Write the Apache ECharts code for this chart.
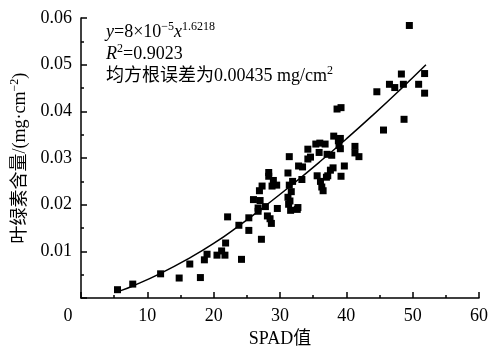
<!DOCTYPE html>
<html>
<head>
<meta charset="utf-8">
<script src="https://cdn.jsdelivr.net/npm/echarts@6/dist/echarts.min.js"></script>
<style>
  html, body { margin: 0; padding: 0; background: #fff; }
  #chart { width: 491px; height: 353px; }
</style>
</head>
<body>
<div id="chart"></div>
<script>
const spad = [
  5.5, 7.8, 12.0, 14.8, 16.4, 18.0, 18.6, 19.0, 20.5, 21.2, 21.7, 21.8, 22.1, 23.8, 24.2,
  25.3, 25.3, 26.0, 26.7, 26.7, 26.9, 27.0, 27.2, 27.3, 27.8, 28.1, 28.3, 28.3, 28.5, 28.7,
  28.8, 29.0, 29.5, 29.6, 31.2, 31.4, 31.2, 31.3, 31.4, 31.5, 31.6, 31.7, 31.9, 32.6, 32.7,
  32.8, 33.3, 33.4, 34.2, 34.2, 34.6, 35.4, 35.6, 35.9, 36.0, 36.1, 36.3, 36.5, 36.8, 37.0,
  37.1, 37.2, 37.6, 37.8, 38.0, 38.1, 38.6, 38.8, 38.9, 39.2, 39.1, 39.1, 39.2, 39.7, 41.3,
  41.3, 41.9, 44.6, 45.6, 46.5, 47.3, 48.3, 48.6, 48.7, 49.5, 50.9, 51.8, 51.8
];
const chlorophyll = [
  0.0018, 0.0030, 0.0052, 0.0043, 0.0073, 0.0044, 0.0082, 0.0094, 0.0092, 0.0101, 0.0092, 0.0118, 0.0174, 0.0156, 0.0083,
  0.0145, 0.0172, 0.0211, 0.0186, 0.0193, 0.0230, 0.0209, 0.0126, 0.0240, 0.0196, 0.0176, 0.0261, 0.0269, 0.0170, 0.0160,
  0.0240, 0.0252, 0.0242, 0.0192, 0.0268, 0.0303, 0.0216, 0.0201, 0.0242, 0.0208, 0.0188, 0.0228, 0.0250, 0.0190, 0.0194,
  0.0283, 0.0254, 0.0281, 0.0319, 0.0298, 0.0302, 0.0330, 0.0262, 0.0312, 0.0332, 0.0250, 0.0238, 0.0230, 0.0330, 0.0259,
  0.0308, 0.0262, 0.0274, 0.0306, 0.0279, 0.0347, 0.0405, 0.0337, 0.0327, 0.0408, 0.0342, 0.0320, 0.0261, 0.0283, 0.0325,
  0.0311, 0.0303, 0.0442, 0.0360, 0.0458, 0.0451, 0.0480, 0.0458, 0.0383, 0.0584, 0.0458, 0.0481, 0.0439
];
// fitted curve
const fitX = [6, 8, 12, 16, 20, 24, 28, 32, 36, 40, 44, 48, 52];
const fitY = [0.0016, 0.0027, 0.0053, 0.0083, 0.0117, 0.0157, 0.0200, 0.0245, 0.0292, 0.0341, 0.0392, 0.0445, 0.0500];
const xTicks = [0, 10, 20, 30, 40, 50, 60];
const yTicks = [0, 0.01, 0.02, 0.03, 0.04, 0.05, 0.06];

const FONT = '"Liberation Serif", "Noto Sans CJK SC", serif';
const scatterData = spad.map((x, i) => [x, chlorophyll[i]]);
const fitData = fitX.map((x, i) => [x, fitY[i]]);

// superscript / normal / italic rich styles
const txt = { fontFamily: FONT, fontSize: 18, fontWeight: 'normal', color: '#000', lineHeight: 22, verticalAlign: 'bottom' };
const sup = { fontFamily: FONT, fontSize: 12, fontWeight: 'normal', color: '#000', lineHeight: 12, verticalAlign: 'bottom', padding: [0, 0, 8, 0] };

const canvas = echarts.init(document.getElementById('chart'));
canvas.setOption({
  animation: false,
  textStyle: { fontFamily: FONT, color: '#000' },
  grid: { left: 81, right: 11, top: 18, bottom: 41 },
  title: {
    left: 106,
    top: 19,
    padding: 0,
    text: '{i|y}{n|=8×10}{s|−5}{i|x}{s|1.6218}\n{i|R}{s|2}{n|=0.9023}\n{n|均方根误差为0.00435 mg/cm}{s|2}',
    textStyle: {
      fontWeight: 'normal',
      rich: {
        n: txt,
        i: Object.assign({}, txt, { fontStyle: 'italic' }),
        s: sup
      }
    }
  },
  xAxis: {
    type: 'value',
    min: xTicks[0],
    max: xTicks[xTicks.length - 1],
    interval: 10,
    name: 'SPAD值',
    nameLocation: 'middle',
    nameGap: 30,
    nameTextStyle: { fontFamily: FONT, fontSize: 18, color: '#000' },
    axisLine: { lineStyle: { color: '#000', width: 1.5 } },
    axisTick: { inside: true, length: 6, lineStyle: { color: '#000', width: 1.5 } },
    minorTick: { show: true, splitNumber: 2, length: 3, lineStyle: { color: '#000', width: 1.5 } },
    splitLine: { show: false },
    axisLabel: {
      margin: 9,
      fontFamily: FONT,
      fontSize: 18,
      color: '#000',
      formatter: (v) => (v === 0 ? '{z|0}' : String(v)),
      rich: { z: { fontFamily: FONT, fontSize: 18, color: '#000', padding: [0, 26, 0, 0] } }
    }
  },
  yAxis: {
    type: 'value',
    min: yTicks[0],
    max: yTicks[yTicks.length - 1],
    interval: 0.01,
    name: '{n|叶绿素含量/(mg·cm}{s|−2}{n|)}',
    nameLocation: 'middle',
    nameGap: 52,
    nameTextStyle: {
      fontFamily: FONT,
      fontSize: 18,
      color: '#000',
      rich: { n: txt, s: sup }
    },
    axisLine: { lineStyle: { color: '#000', width: 1.5 } },
    axisTick: { inside: true, length: 6, lineStyle: { color: '#000', width: 1.5 } },
    minorTick: { show: true, splitNumber: 2, length: 3, lineStyle: { color: '#000', width: 1.5 } },
    splitLine: { show: false },
    axisLabel: {
      margin: 9,
      fontFamily: FONT,
      fontSize: 18,
      color: '#000',
      formatter: (v) => (v === 0 ? '' : v.toFixed(2))
    }
  },
  series: [
    {
      type: 'scatter',
      data: scatterData,
      symbol: 'rect',
      symbolSize: 7,
      itemStyle: { color: '#000', opacity: 1 }
    },
    {
      type: 'line',
      data: fitData,
      smooth: true,
      showSymbol: false,
      symbol: 'none',
      lineStyle: { color: '#000', width: 1.5 }
    }
  ]
});
</script>
</body>
</html>
